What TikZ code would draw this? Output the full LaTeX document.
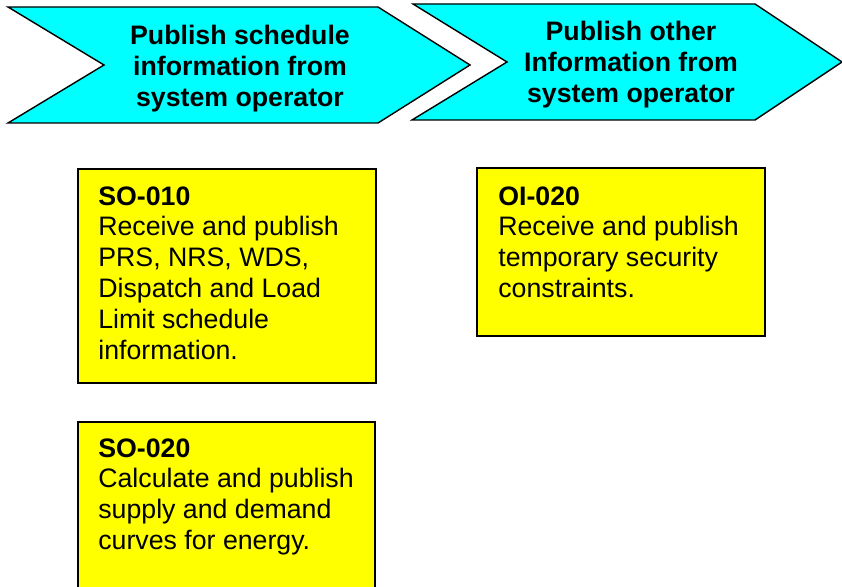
\documentclass[tikz,border=0pt]{standalone}
\usepackage{fontspec}
\setmainfont{Liberation Sans}
\usepackage{xcolor}

\definecolor{phasecyan}{HTML}{00FFFF}
\definecolor{reqyellow}{HTML}{FFFF00}

\tikzset{
  phase/.style={draw=black,fill=phasecyan,line width=0.8pt,line join=miter},
  reqbox/.style={draw=black,fill=reqyellow,line width=0.8pt},
  phasetext/.style={align=center,inner sep=0pt,font=\fontsize{15.2}{17.6}\selectfont\bfseries},
  reqtext/.style={align=left,anchor=north west,inner sep=0pt,font=\fontsize{15.2}{17.6}\selectfont}
}

\begin{document}
\begin{tikzpicture}
    \clip (0,0) rectangle (16.84,11.72);

    % Phase chevrons
    \draw[phase] (0.16,11.58) -- (7.56,11.58) -- (9.40,10.42) -- (7.56,9.26) -- (0.16,9.26) -- (2.08,10.42) -- cycle;
    \node[phasetext] (schedhead) at (4.80,10.35) {Publish schedule\\information from\\system operator};

    \draw[phase] (8.26,11.64) -- (15.10,11.64) -- (16.84,10.48) -- (15.10,9.32) -- (8.24,9.32) -- (10.14,10.48) -- cycle;
    \node[phasetext] (otherhead) at (12.62,10.42) {Publish other\\Information from\\system operator};

    % Requirement boxes
    \draw[reqbox] (1.56,4.06) rectangle (7.52,8.34);
    \node[reqtext] (so010) at (1.96,8.00) {\textbf{SO-010}\\Receive and publish\\PRS, NRS, WDS,\\Dispatch and Load\\Limit schedule\\information.};

    \draw[reqbox] (9.54,5.00) rectangle (15.30,8.36);
    \node[reqtext] (oi020) at (9.96,8.00) {\textbf{OI-020}\\Receive and publish\\temporary security\\constraints.};

    \draw[reqbox] (1.56,-0.3) rectangle (7.50,3.28);
    \node[reqtext] (so020) at (1.96,2.96) {\textbf{SO-020}\\Calculate and publish\\supply and demand\\curves for energy.};
\end{tikzpicture}
\end{document}
